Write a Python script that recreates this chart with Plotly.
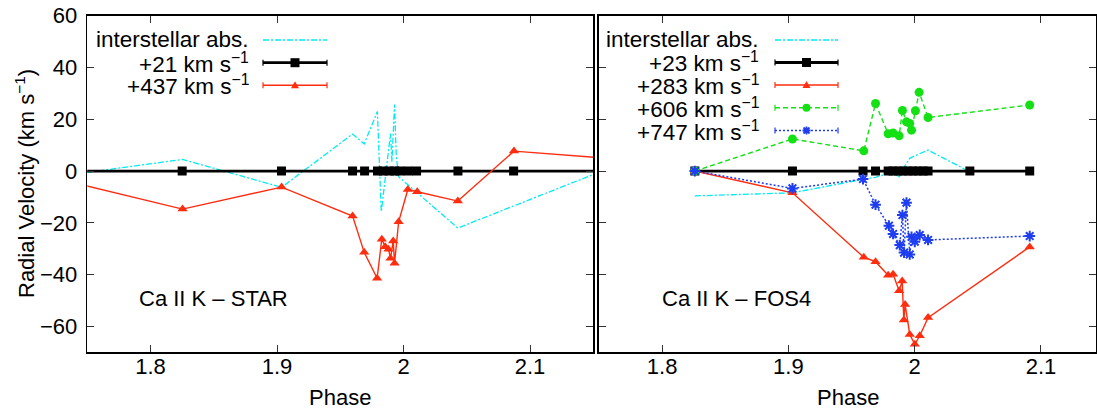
import plotly.graph_objects as go

# ---------------- data ----------------
# Left panel: Ca II K - STAR
star_is_phase = [1.74, 1.8253, 1.9036, 1.9597, 1.9689, 1.9793, 1.9824, 1.9855, 1.9897, 1.9908,
                 1.9929, 1.9942, 1.9961, 2.0429, 2.087, 2.16]
star_is_vel = [-1.2, 4.5, -6.3, 14.3, 10.5, 23.0, -15.7, -2.8, 14.5, 3.6,
               25.7, 6.2, -2.2, -22.0, -13.4, 0.6]

star_21_phase = [1.74, 1.825, 1.9035, 1.9597, 1.9692, 1.9794, 1.9839, 1.9886, 1.9931, 1.9971,
                 2.0036, 2.0103, 2.043, 2.087, 2.16]
star_21_vel = [0, 0, 0, 0, 0, 0, 0, 0, 0, 0, 0, 0, 0, 0, 0]

star_437_phase = [1.74, 1.8253, 1.9036, 1.9597, 1.9689, 1.9791, 1.9828, 1.9855, 1.9881, 1.9897,
                  1.9918, 1.9929, 1.9961, 2.0034, 2.0108, 2.0429, 2.0873, 2.16]
star_437_vel = [-4.6, -14.7, -6.2, -17.4, -31.4, -41.4, -26.3, -29.2, -30.2, -33.7,
                -27.0, -35.6, -19.6, -7.1, -8.0, -11.6, 7.7, 5.0]

# Right panel: Ca II K - FOS4
fos_is_phase = [1.8259, 1.9032, 1.9591, 1.969, 1.979, 1.9829, 1.9877, 1.9903, 1.9935, 1.9961,
                2.0006, 2.0106, 2.0437]
fos_is_vel = [-9.6, -8.4, -3.2, -2.4, -1.0, -0.5, -2.2, 0.5, 3.0, 4.9, 6.0, 8.1, -0.3]

fos_23_phase = [1.8259, 1.9032, 1.9591, 1.969, 1.979, 1.9829, 1.9869, 1.9908, 1.9948, 1.9987,
                2.0027, 2.0067, 2.0106, 2.0437, 2.0911]
fos_23_vel = [0, 0, 0, 0, 0, 0, 0, 0, 0, 0, 0, 0, 0, 0, 0]

fos_283_phase = [1.8259, 1.9032, 1.9597, 1.969, 1.979, 1.9829, 1.9877, 1.9901, 1.9914, 1.9924,
                 1.9961, 2.0001, 2.004, 2.0106, 2.0911]
fos_283_vel = [0, -8.4, -33.3, -35.0, -40.2, -39.9, -46.2, -42.5, -57.5, -51.5,
               -63.1, -66.9, -63.6, -56.6, -29.3]

fos_606_phase = [1.8259, 1.9032, 1.9597, 1.969, 1.979, 1.9829, 1.9877, 1.9903, 1.9935, 1.9961,
                 1.9975, 2.0006, 2.0035, 2.0106, 2.0911]
fos_606_vel = [0, 12.4, 7.8, 26.1, 14.4, 14.7, 13.6, 23.4, 19.0, 18.4,
               15.8, 23.3, 30.4, 20.7, 25.5]

fos_747_phase = [1.8259, 1.9032, 1.9591, 1.969, 1.9796, 1.9829, 1.9882, 1.9903, 1.9916, 1.9935,
                 1.9961, 1.9975, 2.0001, 2.004, 2.0106, 2.0911]
fos_747_vel = [0, -6.7, -3.1, -13.0, -21.1, -24.3, -28.6, -17.0, -31.5, -12.2,
               -32.2, -25.4, -27.3, -24.7, -26.6, -25.1]

x_ticks = [1.8, 1.9, 2.0, 2.1]
x_tick_labels = ["1.8", "1.9", "2", "2.1"]
y_ticks = [-60, -40, -20, 0, 20, 40, 60]

left_legend = ["interstellar abs.", "+21 km s<sup>−1</sup>", "+437 km s<sup>−1</sup>"]
right_legend = ["interstellar abs.", "+23 km s<sup>−1</sup>", "+283 km s<sup>−1</sup>",
                "+606 km s<sup>−1</sup>", "+747 km s<sup>−1</sup>"]

# ---------------- styles ----------------
FONT = "Liberation Sans, Arial, Helvetica, sans-serif"
FS = 22
LFS = 22.5
CYAN = "rgb(0,235,245)"
BLACK = "black"
RED = "rgb(255,45,15)"
GREEN = "rgb(20,225,20)"
BLUE = "rgb(30,60,240)"

W, H = 1097, 412
L_X0, L_X1 = 87.3, 593.3
R_X0, R_X1 = 599.0, 1096.0
Y_TOP, Y_BOT = 15.7, 352.3


def px(x):
    return x / W


def py(y):
    return 1 - y / H


fig = go.Figure()

def add_series(xs, ys, color, width, dash, symbol, size, xa, ya, mline=0):
    marker = dict(symbol=symbol, size=size, color=color)
    if mline:
        marker["line"] = dict(color=color, width=mline)
    fig.add_trace(go.Scatter(
        x=xs, y=ys, mode="lines+markers" if symbol else "lines",
        line=dict(color=color, width=width, dash=dash),
        marker=marker if symbol else None,
        xaxis=xa, yaxis=ya, showlegend=False, hoverinfo="skip"))

# left panel
add_series(star_is_phase, star_is_vel, CYAN, 1.3, "6px,2px,2px,2px", None, 0, "x", "y")
add_series(star_21_phase, star_21_vel, BLACK, 2.8, "solid", "square", 9, "x", "y")
add_series(star_437_phase, star_437_vel, RED, 1.4, "solid", "triangle-up", 9, "x", "y")

# right panel
add_series(fos_is_phase, fos_is_vel, CYAN, 1.3, "6px,2px,2px,2px", None, 0, "x2", "y2")
add_series(fos_23_phase, fos_23_vel, BLACK, 2.8, "solid", "square", 9, "x2", "y2")
add_series(fos_283_phase, fos_283_vel, RED, 1.4, "solid", "triangle-up", 9, "x2", "y2")
add_series(fos_606_phase, fos_606_vel, GREEN, 1.4, "5px,3px", "circle", 9, "x2", "y2")
add_series(fos_747_phase, fos_747_vel, BLUE, 1.5, "2px,2px", "asterisk-open", 9, "x2", "y2", mline=2)

axis_common = dict(
    showline=True, linecolor="black", linewidth=1.6, mirror="ticks",
    ticks="inside", ticklen=7, tickwidth=1, tickcolor="#333",
    showgrid=False, zeroline=False, automargin=False,
    tickfont=dict(family=FONT, size=FS, color="black"),
)

fig.update_layout(
    width=W, height=H, margin=dict(l=0, r=0, t=0, b=0, pad=0, autoexpand=False),
    paper_bgcolor="white", plot_bgcolor="white", showlegend=False,
    font=dict(family=FONT, size=FS, color="black"),
    xaxis=dict(domain=[px(L_X0), px(L_X1)], range=[1.75, 2.15], anchor="y",
               tickvals=x_ticks, ticktext=x_tick_labels, ticklabelstandoff=-6, **axis_common),
    yaxis=dict(domain=[py(Y_BOT), py(Y_TOP)], range=[-70, 60], anchor="x",
               tickvals=y_ticks, ticklabelstandoff=4, **axis_common),
    xaxis2=dict(domain=[px(R_X0), px(R_X1)], range=[1.75, 2.1436], anchor="y2",
                tickvals=x_ticks, ticktext=x_tick_labels, ticklabelstandoff=-6, **axis_common),
    yaxis2=dict(domain=[py(Y_BOT), py(Y_TOP)], range=[-70, 60], anchor="x2",
                tickvals=y_ticks, showticklabels=False, **axis_common),
)

shapes = []
annotations = []


def ann(x, y, text, xanchor="center", yanchor="middle", angle=0, size=FS):
    annotations.append(dict(x=px(x), y=py(y), xref="paper", yref="paper", text=text,
                            showarrow=False, xanchor=xanchor, yanchor=yanchor, textangle=angle,
                            font=dict(family=FONT, size=size, color="black")))


def hl(x0, y0, x1, y1, color, width, dash="solid"):
    shapes.append(dict(type="line", xref="paper", yref="paper",
                       x0=px(x0), y0=py(y0), x1=px(x1), y1=py(y1),
                       line=dict(color=color, width=width, dash=dash)))


def legend_row(xr, x0, x1, y, label, color, width, dash, marker, caps=True):
    ann(xr, y, label, xanchor="right", size=LFS)
    hl(x0, y, x1, y, color, width, dash)
    if caps:
        hl(x0, y - 3, x0, y + 3, color, 1.2)
        hl(x1, y - 3, x1, y + 3, color, 1.2)
    xc = (x0 + x1) / 2
    if marker == "square":
        shapes.append(dict(type="rect", xref="paper", yref="paper",
                           x0=px(xc - 4.5), x1=px(xc + 4.5), y0=py(y + 4.5), y1=py(y - 4.5),
                           fillcolor=color, line=dict(width=0)))
    elif marker == "triangle":
        path = "M {} {} L {} {} L {} {} Z".format(px(xc - 4), py(y + 3), px(xc + 4), py(y + 3),
                                                  px(xc), py(y - 4))
        shapes.append(dict(type="path", xref="paper", yref="paper", path=path,
                           fillcolor=color, line=dict(width=0)))
    elif marker == "circle":
        shapes.append(dict(type="circle", xref="paper", yref="paper",
                           x0=px(xc - 4), x1=px(xc + 4), y0=py(y + 4), y1=py(y - 4),
                           fillcolor=color, line=dict(width=0)))
    elif marker == "asterisk":
        path = ("M {a} {y} L {b} {y} M {c} {t} L {c} {u} M {d} {v} L {e} {w} M {d} {w} L {e} {v}"
                .format(a=px(xc - 4), b=px(xc + 4), y=py(y), c=px(xc), t=py(y - 4), u=py(y + 4),
                        d=px(xc - 3), e=px(xc + 3), v=py(y - 3), w=py(y + 3)))
        shapes.append(dict(type="path", xref="paper", yref="paper", path=path,
                           line=dict(color=color, width=1.8)))


# left legend
ly = [40, 62.7, 85.3]
legend_row(251, 263, 327, ly[0], left_legend[0], CYAN, 1.3, "6px,2px,2px,2px", None, caps=False)
legend_row(251, 263, 327, ly[1], left_legend[1], BLACK, 2.8, "solid", "square")
legend_row(251, 263, 327, ly[2], left_legend[2], RED, 1.4, "solid", "triangle")

# right legend
ry = [40, 62.5, 85, 107.7, 130.5]
legend_row(761, 775, 838, ry[0], right_legend[0], CYAN, 1.3, "6px,2px,2px,2px", None, caps=False)
legend_row(761, 775, 838, ry[1], right_legend[1], BLACK, 2.8, "solid", "square")
legend_row(761, 775, 838, ry[2], right_legend[2], RED, 1.4, "solid", "triangle")
legend_row(761, 775, 838, ry[3], right_legend[3], GREEN, 1.4, "5px,3px", "circle")
legend_row(761, 775, 838, ry[4], right_legend[4], BLUE, 1.5, "2px,2px", "asterisk")

# panel labels
ann(137, 298, "Ca II K – STAR", xanchor="left")
ann(660, 298, "Ca II K – FOS4", xanchor="left")

# axis titles
ann((L_X0 + L_X1) / 2, 397, "Phase")
ann((R_X0 + R_X1) / 2, 397, "Phase")
ann(25, 184, "Radial Velocity (km s<sup>−1</sup>)", angle=-90)

fig.update_layout(shapes=shapes, annotations=annotations)

fig.write_html("out.html", config={"displayModeBar": False, "staticPlot": True},
               post_script="document.body.style.margin='0';document.body.style.overflow='hidden';")
